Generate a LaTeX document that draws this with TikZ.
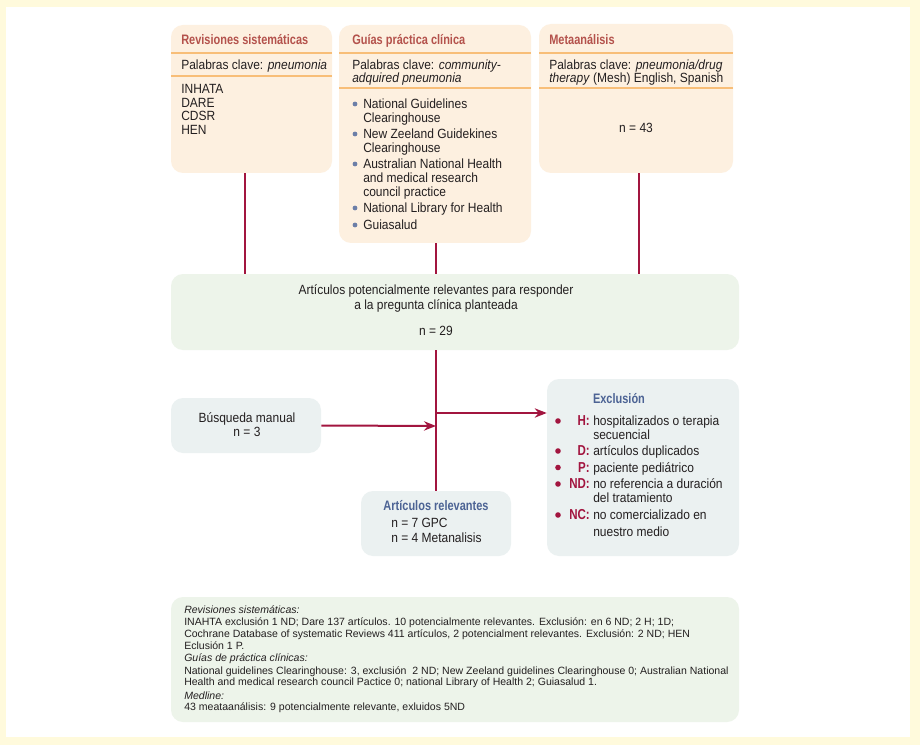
\documentclass[tikz,border=0pt]{standalone}
\usepackage{fontspec}
\setmainfont{Liberation Sans}[FakeStretch=0.9]
\newfontfamily\titlefont{Liberation Sans}[FakeStretch=0.8]
\newfontfamily\notefont{Liberation Sans}
\usetikzlibrary{arrows.meta,fit,calc}
\definecolor{frameyel}{HTML}{FFFADC}
\definecolor{peach}{HTML}{FDF0E0}
\definecolor{orangeline}{HTML}{F8BE78}
\definecolor{titlered}{HTML}{B4524C}
\definecolor{greenbox}{HTML}{EDF4EA}
\definecolor{greybox}{HTML}{EBF1F1}
\definecolor{crimson}{HTML}{A2153F}
\definecolor{blueT}{HTML}{4C6394}
\definecolor{bulletblue}{HTML}{6C7FA8}
\definecolor{textc}{HTML}{231F20}
\tikzset{
  boxbase/.style={rounded corners=9pt, inner sep=0pt, draw=none},
  peachbox/.style={boxbase, fill=peach},
  greenb/.style={boxbase, fill=greenbox},
  greyb/.style={boxbase, fill=greybox},
  sepline/.style={draw=orangeline, line width=1.6pt},
  conn/.style={draw=crimson, line width=1.5pt},
  arr/.style={conn, -{Stealth[length=9pt,width=7pt]}},
  ttl/.style={anchor=west, inner sep=0pt, text=titlered, text height=7.3pt, text depth=0pt,
    font=\titlefont\bfseries\fontsize{10.3}{12}\selectfont},
  bttl/.style={ttl, anchor=center, text=blueT},
  txt/.style={anchor=west, inner sep=0pt, text=textc, text height=7pt, text depth=0pt,
    font=\fontsize{10}{12}\selectfont},
  ctxt/.style={txt, anchor=center},
  small/.style={anchor=west, inner sep=0pt, text=textc, text height=5.6pt, text depth=0pt,
    font=\notefont\fontsize{7.9}{9.5}\selectfont},
  lbl/.style={anchor=east, inner sep=0pt, text=crimson, text height=7.3pt, text depth=0pt,
    font=\titlefont\bfseries\fontsize{10.8}{12}\selectfont},
  gbul/.style={fill=bulletblue},
  rbul/.style={fill=crimson},
}
\begin{document}
\begin{tikzpicture}[x=0.75pt,y=-0.75pt]
\useasboundingbox (0,0) rectangle (920,745);
\fill[frameyel] (0,0) rectangle (920,745);
\fill[white] (6,7) rectangle (910,737);

% boxes
\node[peachbox, fit={(171,25)(332,173)}] (rev) {};
\node[peachbox, fit={(339,25)(531,243)}] (gpc) {};
\node[peachbox, fit={(539,24)(733,173)}] (meta) {};
\node[greenb, fit={(171,274)(739,350)}] (pot) {};
\node[greyb, fit={(171,398)(321,453)}] (busq) {};
\node[greyb, fit={(361,491)(511,556)}] (relev) {};
\node[greyb, fit={(547,379)(739,556)}] (excl) {};
\node[greenb, fit={(171,597)(739,722)}] (notes) {};

% separators
\draw[sepline] (171,53) -- (332,53);
\draw[sepline] (171,76) -- (332,76);
\draw[sepline] (339,53) -- (531,53);
\draw[sepline] (339,88) -- (531,88);
\draw[sepline] (539,53) -- (733,53);
\draw[sepline] (539,88) -- (733,88);

% Revisiones
\node[ttl] (revT) at (181,40) {Revisiones sistemáticas};
\node[txt] (revK) at (181,65) {Palabras clave: \textit{pneumonia}};
\node[txt] (rev1) at (181,89) {INHATA};
\node[txt] (rev2) at (181,102.5) {DARE};
\node[txt] (rev3) at (181,116) {CDSR};
\node[txt] (rev4) at (181,129.5) {HEN};

% Guias
\node[ttl] (gpcT) at (352,40) {Guías práctica clínica};
\node[txt] (gpcK1) at (352,65) {Palabras clave: \textit{community-}};
\node[txt] (gpcK2) at (352,78) {\textit{adquired pneumonia}};
\fill[gbul] (355,104) circle[radius=1.8pt];
\node[txt] (g1a) at (363,104) {National Guidelines};
\node[txt] (g1b) at (363,117.5) {Clearinghouse};
\fill[gbul] (355,134) circle[radius=1.8pt];
\node[txt] (g2a) at (363,134) {New Zeeland Guidekines};
\node[txt] (g2b) at (363,148) {Clearinghouse};
\fill[gbul] (355,164) circle[radius=1.8pt];
\node[txt] (g3a) at (363,164) {Australian National Health};
\node[txt] (g3b) at (363,178) {and medical research};
\node[txt] (g3c) at (363,191.5) {council practice};
\fill[gbul] (355,208) circle[radius=1.8pt];
\node[txt] (g4) at (363,208) {National Library for Health};
\fill[gbul] (355,225) circle[radius=1.8pt];
\node[txt] (g5) at (363,225) {Guiasalud};

% Meta
\node[ttl] (metaT) at (549,40) {Metaanálisis};
\node[txt] (metaK1) at (549,65) {Palabras clave: \textit{pneumonia/drug}};
\node[txt] (metaK2) at (549,78) {\textit{therapy} (Mesh) English, Spanish};
\node[ctxt] (metaN) at (636,128) {n = 43};

% potencial
\node[ctxt] (pot1) at (436,290) {Artículos potencialmente relevantes para responder};
\node[ctxt] (pot2) at (436,304.5) {a la pregunta clínica planteada};
\node[ctxt] (potN) at (436,331) {n = 29};

% busqueda
\node[ctxt] (busq1) at (247,418) {Búsqueda manual};
\node[ctxt] (busq2) at (247,431.5) {n = 3};

% relevantes
\node[bttl] (relT) at (436,506) {Artículos relevantes};
\node[txt] (rel1) at (391,523) {n = 7 GPC};
\node[txt] (rel2) at (391,537.5) {n = 4 Metanalisis};

% exclusion
\node[bttl] (exT) at (619,399) {Exclusión};
\fill[rbul] (558,421) circle[radius=2.1pt];
\node[lbl] (exH) at (590,421) {H:};
\node[txt] (exH1) at (593,421) {hospitalizados o terapia};
\node[txt] (exH2) at (593,435) {secuencial};
\fill[rbul] (558,451) circle[radius=2.1pt];
\node[lbl] (exD) at (590,451) {D:};
\node[txt] (exD1) at (593,451) {artículos duplicados};
\fill[rbul] (558,467.5) circle[radius=2.1pt];
\node[lbl] (exP) at (590,467.5) {P:};
\node[txt] (exP1) at (593,467.5) {paciente pediátrico};
\fill[rbul] (558,484) circle[radius=2.1pt];
\node[lbl] (exND) at (590,484) {ND:};
\node[txt] (exND1) at (593,484) {no referencia a duración};
\node[txt] (exND2) at (593,498) {del tratamiento};
\fill[rbul] (558,515) circle[radius=2.1pt];
\node[lbl] (exNC) at (590,515) {NC:};
\node[txt] (exNC1) at (593,515) {no comercializado en};
\node[txt] (exNC2) at (593,532) {nuestro medio};

% notes
\node[small] (n1) at (184,610) {\textit{Revisiones sistemáticas:}};
\node[small] (n2) at (184,622) {INAHTA exclusión 1 ND; Dare 137 artículos. 10 potencialmente relevantes. Exclusión: en 6 ND; 2 H; 1D;};
\node[small] (n3) at (184,634) {Cochrane Database of systematic Reviews 411 artículos, 2 potencialment relevantes. Exclusión: 2 ND; HEN};
\node[small] (n4) at (184,645.5) {Eclusión 1 P.};
\node[small] (n5) at (184,658) {\textit{Guías de práctica clínicas:}};
\node[small] (n6) at (184,670.5) {National guidelines Clearinghouse: 3, exclusión\ \ 2 ND; New Zeeland guidelines Clearinghouse 0; Australian National};
\node[small] (n7) at (184,682) {Health and medical research council Pactice 0; national Library of Health 2; Guiasalud 1.};
\node[small] (n8) at (184,695.5) {\textit{Medline:}};
\node[small] (n9) at (184,707) {43 meataanálisis: 9 potencialmente relevante, exluidos 5ND};

% connectors
\draw[conn] ([xshift=-4.9pt]rev.south) -- ([xshift=-4.9pt]rev.south |- pot.north);
\draw[conn] ([xshift=0.75pt]gpc.south) -- ([xshift=0.75pt]gpc.south |- pot.north);
\draw[conn] ([xshift=2.25pt]meta.south) -- ([xshift=2.25pt]meta.south |- pot.north);
\draw[conn] (relev.north |- pot.south) -- (relev.north);
\coordinate (jb) at (436,426);
\coordinate (je) at (436,413);
\draw[arr] (busq.east) -- (jb);
\draw[arr] (je) -- (excl.west |- je);
\end{tikzpicture}
\end{document}
